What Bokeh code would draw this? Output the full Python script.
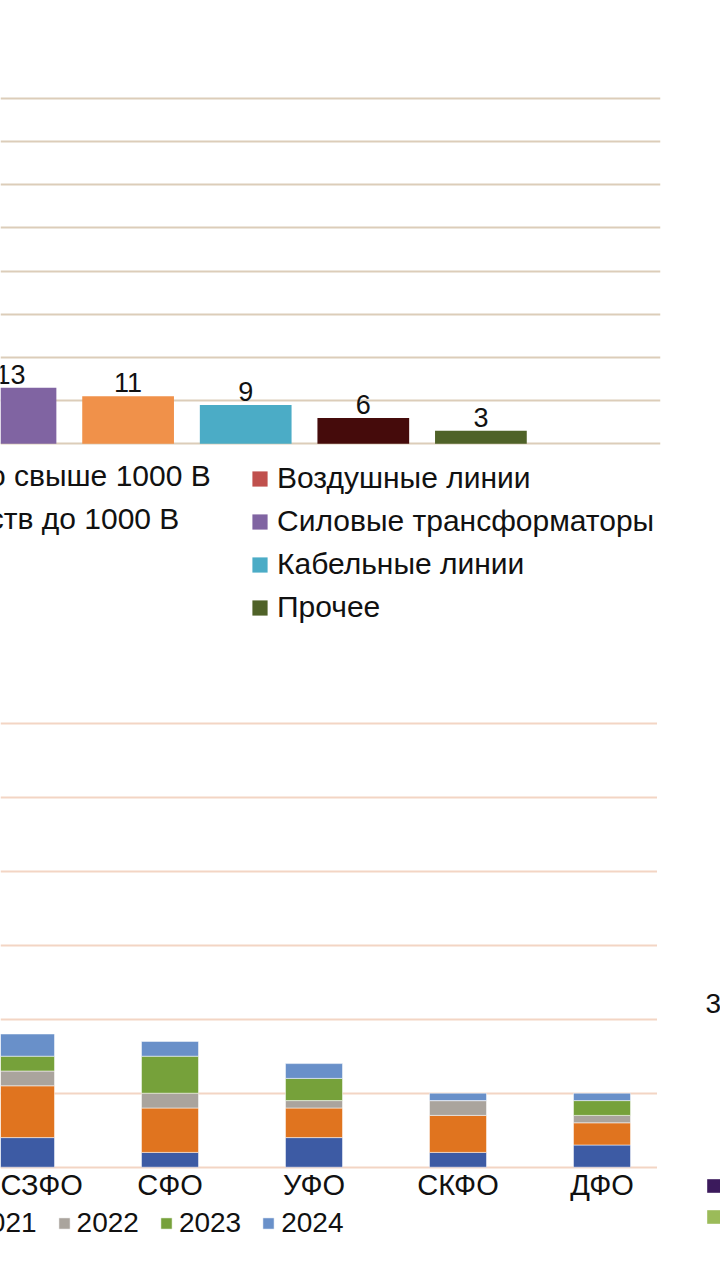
from bokeh.plotting import figure
from bokeh.models import (ColumnDataSource, Legend, LegendItem, Grid, FixedTicker,
                          Label, Range1d, GlobalInlineStyleSheet)
from bokeh.layouts import column, row
from bokeh.embed import file_html
from bokeh.resources import INLINE
from bokeh.core.properties import value

FONT = "Liberation Sans"
NAN = float("nan")

# ---------------- data: top chart ----------------
top_series = ["Силовые трансформаторы", "Распредустройство свыше 1000 В",
              "Кабельные линии", "Оборудование распредустройств до 1000 В", "Прочее"]
top_values = [13, 11, 9, 6, 3]
top_colors = ["#8064a2", "#f0914a", "#4bacc6", "#450b0b", "#4f6228"]
top_ticks = [0, 10, 20, 30, 40, 50, 60, 70, 80]
extra_series = "Воздушные линии"
extra_color = "#c0504d"
legend_right_order = ["Воздушные линии", "Силовые трансформаторы", "Кабельные линии", "Прочее"]
legend_left_order = ["Распредустройство свыше 1000 В", "Оборудование распредустройств до 1000 В"]

# ---------------- data: bottom chart ----------------
districts = ["СЗФО", "СФО", "УФО", "СКФО", "ДФО"]
years = ["2020", "2021", "2022", "2023", "2024"]
v2020 = [4, 2, 4, 2, 3]
v2021 = [7, 6, 4, 5, 3]
v2022 = [2, 2, 1, 2, 1]
v2023 = [2, 5, 3, 0, 2]
v2024 = [3, 2, 2, 1, 1]
year_colors = ["#3d5ba4", "#e0741f", "#aaa49d", "#76a13a", "#6990c9"]
bottom_ticks = [0, 10, 20, 30, 40, 50, 60]
neighbour_label = "3"
neighbour_colors = ["#3b1a5c", "#9bbb59"]

TOP_H = 660
BOT_H = 620
W = 720
FRAME_W_TOP = 660
FRAME_W_BOT = 657


def make_legend(items, loc, orientation="vertical", size="30px", spacing=9, glyph=19, standoff=8):
    return Legend(items=items, location=loc, orientation=orientation,
                  label_text_font=FONT, label_text_font_size=size,
                  label_text_color="#111111", glyph_width=glyph, glyph_height=glyph,
                  label_standoff=standoff, spacing=spacing, padding=0, margin=0,
                  border_line_color=None, background_fill_alpha=0)


# ---------------- top figure ----------------
px_top = (443.3 - 97.7) / 80.0
slot_top = 117.6
x0_top = -10.0 / slot_top
p1 = figure(width=W, height=TOP_H, output_backend="svg", toolbar_location=None,
            x_axis_location=None, y_axis_location=None,
            x_range=Range1d(x0_top, x0_top + FRAME_W_TOP / slot_top),
            y_range=Range1d(-(TOP_H - 443.3) / px_top, 443.3 / px_top),
            min_border_left=0, min_border_right=W - FRAME_W_TOP,
            min_border_top=0, min_border_bottom=0)
p1.outline_line_color = None
p1.grid.visible = False
p1.add_layout(Grid(dimension=1, ticker=FixedTicker(ticks=top_ticks),
                   grid_line_color="#dccdb9", grid_line_width=2))

src1 = ColumnDataSource(dict(x=list(range(len(top_values))), top=top_values,
                             color=top_colors, lab=[str(v) for v in top_values]))
bars1 = p1.vbar(x="x", top="top", width=0.78, fill_color="color", line_color=None, source=src1)
p1.text(x="x", y="top", text="lab", source=src1, text_align="center",
        text_baseline="bottom", y_offset=-4, text_font=value(FONT),
        text_font_size="27px", text_color="#111111")

# legend-only renderer for the series whose bar lies outside the view
extra_r = p1.vbar(x=[NAN], top=[NAN], width=0.78, fill_color=extra_color, line_color=None)


def item_for(name):
    if name == extra_series:
        return LegendItem(label=name, renderers=[extra_r])
    return LegendItem(label=name, renderers=[bars1], index=top_series.index(name))


p1.add_layout(make_legend([item_for(n) for n in legend_right_order], (250, 36)))
p1.add_layout(make_legend([item_for(legend_left_order[0])], (-293, 167)))
p1.add_layout(make_legend([item_for(legend_left_order[1])], (-459, 124)))

# ---------------- bottom figure ----------------
px_bot = 7.4
base_from_bottom = BOT_H - (1166.7 - TOP_H)
slot_bot = 144.0
x0_bot = -25.5 / slot_bot
p2 = figure(width=FRAME_W_BOT, height=BOT_H, output_backend="svg",
            toolbar_location=None, y_axis_location=None,
            x_range=Range1d(x0_bot, x0_bot + FRAME_W_BOT / slot_bot),
            y_range=Range1d(-base_from_bottom / px_bot, (BOT_H - base_from_bottom) / px_bot),
            min_border_left=0, min_border_right=0, min_border_top=0, min_border_bottom=0)
p2.outline_line_color = None
p2.grid.visible = False
p2.add_layout(Grid(dimension=1, ticker=FixedTicker(ticks=bottom_ticks),
                   grid_line_color="#f3d5c4", grid_line_width=2))

src2 = ColumnDataSource(dict(x=list(range(len(districts))), **{
    "2020": v2020, "2021": v2021, "2022": v2022, "2023": v2023, "2024": v2024}))
stack = p2.vbar_stack(years, x="x", width=0.396, source=src2, fill_color=year_colors,
                      line_color="white", line_alpha=0.5, line_width=1)

ax = p2.xaxis[0]
ax.fixed_location = 0
ax.ticker = FixedTicker(ticks=list(range(len(districts))))
ax.major_label_overrides = {i: d for i, d in enumerate(districts)}
ax.axis_line_color = None
ax.major_tick_line_color = None
ax.minor_tick_line_color = None
ax.major_tick_out = 0
ax.major_label_standoff = 2
ax.major_label_text_font = FONT
ax.major_label_text_font_size = "29px"
ax.major_label_text_color = "#111111"

p2.add_layout(make_legend([LegendItem(label=y, renderers=[r]) for y, r in zip(years, stack)],
                          (-148, 41), orientation="horizontal", size="28px",
                          spacing=20, glyph=14, standoff=6))

# ---------------- right strip (neighbouring chart fragment) ----------------
p3 = figure(width=W - FRAME_W_BOT, height=BOT_H, output_backend="svg", toolbar_location=None,
            x_axis_location=None, y_axis_location=None,
            x_range=Range1d(0, W - FRAME_W_BOT), y_range=Range1d(0, BOT_H),
            min_border_left=0, min_border_right=0, min_border_top=0, min_border_bottom=0)
p3.outline_line_color = None
p3.grid.visible = False
p3.add_layout(Label(x=48, y=1280 - 1003, x_units="screen", y_units="screen",
                    text=neighbour_label, text_font=FONT, text_font_size="28px",
                    text_baseline="middle", text_color="#111111"))
nr = [p3.vbar(x=[NAN], top=[NAN], width=1, fill_color=c, line_color=None)
      for c in neighbour_colors]
p3.add_layout(make_legend([LegendItem(label=" ", renderers=[r]) for r in nr], (48, 55),
                          size="10px", spacing=14, glyph=17))

layout = column(p1, row(p2, p3))
layout.stylesheets = [GlobalInlineStyleSheet(css="body{margin:0;}")]

open("out.html", "w").write(file_html(layout, INLINE))
